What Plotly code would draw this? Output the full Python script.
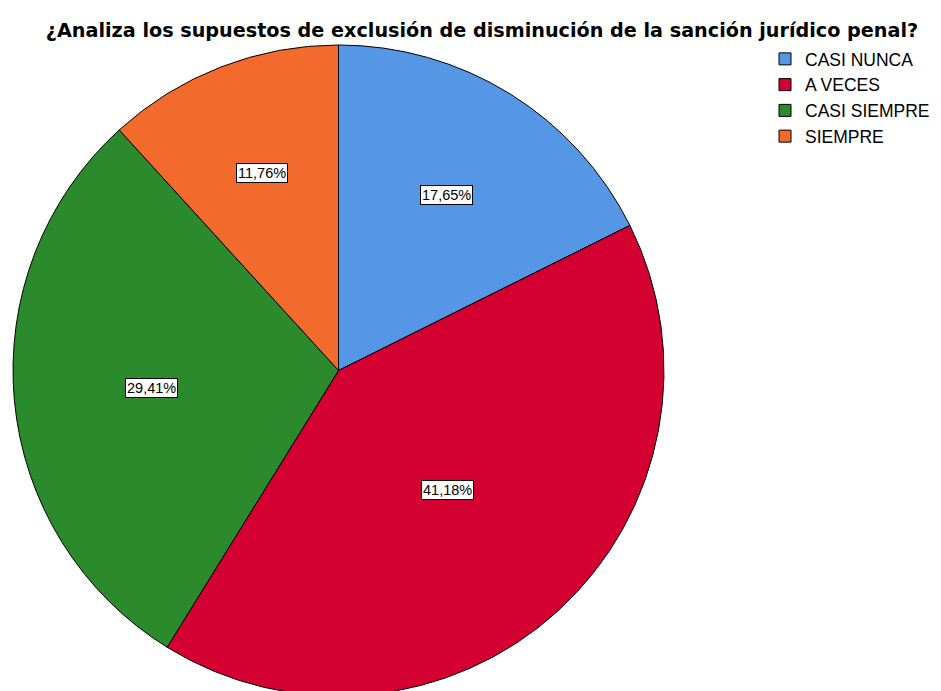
import math
import plotly.graph_objects as go

categories = ["CASI NUNCA", "A VECES", "CASI SIEMPRE", "SIEMPRE"]
counts = [3, 7, 5, 2]
colors = ["#5596E5", "#D40032", "#2B8A2B", "#F26A2C"]
title_text = "¿Analiza los supuestos de exclusión de disminución de la sanción jurídico penal?"

W, H = 941, 691
# page has an 8px body margin; positions below are in figure pixels
dom_x = [5 / W, 656 / W]
dom_y = [3 / H, 654 / H]
radius_px = 325.5

fig = go.Figure(go.Pie(
    labels=categories,
    values=counts,
    marker=dict(colors=colors, line=dict(color="#000000", width=1)),
    sort=False,
    direction="clockwise",
    rotation=0,
    textinfo="none",
    hoverinfo="label+percent",
    domain=dict(x=dom_x, y=dom_y),
))

# labels at sector centroids, formatted with comma decimal
total = sum(counts)
cx = (dom_x[0] + dom_x[1]) / 2
cy = (dom_y[0] + dom_y[1]) / 2
cum = 0.0
annotations = []
for c in counts:
    frac = c / total
    alpha = frac * 2 * math.pi
    mid = (cum + frac / 2) * 2 * math.pi
    cum += frac
    d = 4 * math.sin(alpha / 2) / (3 * alpha) * radius_px
    x = cx + d * math.sin(mid) / W
    y = cy + d * math.cos(mid) / H
    txt = f"{frac * 100:.2f}%".replace(".", ",")
    annotations.append(dict(
        x=x, y=y, xref="paper", yref="paper", text=txt, showarrow=False,
        font=dict(family="Liberation Sans, Arial", size=14.5, color="#000000"),
        bgcolor="#FFFFFF", bordercolor="#000000", borderwidth=1, borderpad=1,
        xanchor="center", yanchor="middle",
    ))

fig.update_layout(
    width=W, height=H,
    margin=dict(l=0, r=0, t=0, b=0),
    paper_bgcolor="#FFFFFF",
    plot_bgcolor="#FFFFFF",
    title=dict(text=title_text, x=474 / W, xanchor="center", y=1 - 22.5 / H, yanchor="middle",
               font=dict(family="DejaVu Sans", size=19.2, color="#000000", weight="bold")),
    legend=dict(x=757 / W, y=1 - 33 / H, xanchor="left", yanchor="top",
                font=dict(family="Liberation Sans, Arial", size=17.5, color="#000000"),
                bgcolor="rgba(0,0,0,0)", itemwidth=30),
    annotations=annotations,
)

fig.write_html("out.html")
